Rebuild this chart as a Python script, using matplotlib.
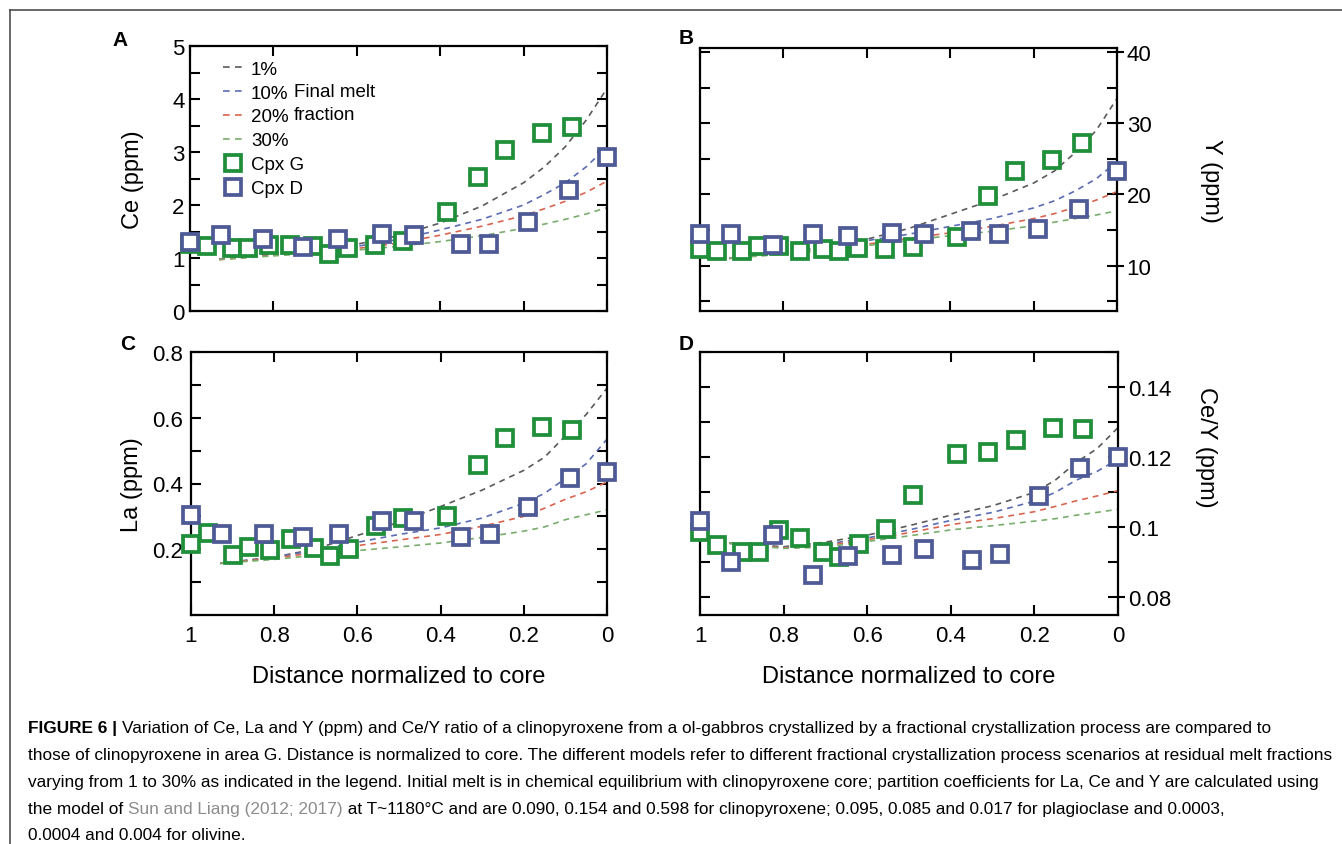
import matplotlib
matplotlib.use('Agg')
import matplotlib.pyplot as plt
from matplotlib import font_manager
from matplotlib.lines import Line2D
from matplotlib.ticker import MultipleLocator, NullLocator

W, H, DPI = 1342, 845, 100

# ---------------- data ----------------
dist_g = [1.0, 0.96, 0.90, 0.86, 0.81, 0.76, 0.705, 0.667, 0.62, 0.556,
          0.49, 0.384, 0.31, 0.244, 0.156, 0.084]
dist_d = [1.0, 0.925, 0.825, 0.73, 0.645, 0.54, 0.463, 0.35, 0.282, 0.19,
          0.09, 0.0]

ce_g = [1.27, 1.22, 1.19, 1.18, 1.24, 1.25, 1.22, 1.08, 1.19, 1.24, 1.33,
        1.87, 2.52, 3.03, 3.35, 3.48]
ce_d = [1.31, 1.44, 1.35, 1.20, 1.35, 1.46, 1.44, 1.27, 1.27, 1.68, 2.29, 2.91]

y_g = [12.3, 12.1, 12.1, 12.7, 12.8, 12.05, 12.3, 12.05, 12.4, 12.3, 12.6,
       14.0, 19.8, 23.3, 24.9, 27.3]
y_d = [14.4, 14.4, 12.9, 14.5, 14.2, 14.6, 14.4, 14.8, 14.4, 15.2, 17.9, 23.3]

la_g = [0.216, 0.249, 0.183, 0.206, 0.198, 0.231, 0.203, 0.179, 0.201, 0.270,
        0.294, 0.300, 0.455, 0.539, 0.572, 0.563]
la_d = [0.303, 0.245, 0.247, 0.237, 0.247, 0.287, 0.287, 0.237, 0.247, 0.328,
        0.417, 0.435]

cey_g = [0.0986, 0.0950, 0.0931, 0.0931, 0.0993, 0.0970, 0.0931, 0.0917,
         0.0952, 0.0995, 0.1093, 0.1210, 0.1216, 0.1250, 0.1284, 0.1281]
cey_d = [0.1019, 0.0902, 0.0978, 0.0864, 0.0919, 0.0922, 0.0938, 0.0908,
         0.0924, 0.1090, 0.1170, 0.1202]

# model curves (residual melt fraction 1, 10, 20, 30 %)
model_x = [0.93, 0.8, 0.7, 0.6, 0.5, 0.4, 0.3, 0.2, 0.15, 0.1, 0.05, 0.0]
model_labels = ['1%', '10%', '20%', '30%']

ce_model = [
    [0.98, 1.08, 1.16, 1.26, 1.42, 1.66, 1.98, 2.42, 2.72, 3.10, 3.60, 4.20],
    [0.98, 1.07, 1.14, 1.22, 1.35, 1.53, 1.73, 2.00, 2.20, 2.42, 2.72, 3.10],
    [0.97, 1.05, 1.11, 1.18, 1.28, 1.43, 1.60, 1.80, 1.93, 2.07, 2.24, 2.45],
    [0.97, 1.04, 1.09, 1.15, 1.22, 1.31, 1.42, 1.56, 1.64, 1.73, 1.83, 1.95],
]
y_model = [
    [11.0, 11.9, 12.6, 13.7, 15.2, 17.2, 19.2, 21.6, 23.3, 25.9, 29.0, 33.5],
    [11.0, 11.9, 12.6, 13.5, 14.4, 15.5, 16.6, 18.1, 19.1, 20.5, 22.2, 24.6],
    [11.0, 11.7, 12.3, 13.0, 13.8, 14.6, 15.5, 16.6, 17.3, 18.2, 19.2, 20.4],
    [11.0, 11.6, 12.1, 12.8, 13.5, 14.2, 14.8, 15.6, 16.1, 16.6, 17.1, 17.7],
]
la_model = [
    [0.157, 0.176, 0.201, 0.242, 0.282, 0.330, 0.380, 0.440, 0.480, 0.545, 0.610, 0.690],
    [0.157, 0.176, 0.197, 0.221, 0.245, 0.265, 0.295, 0.340, 0.370, 0.415, 0.460, 0.535],
    [0.157, 0.173, 0.190, 0.211, 0.228, 0.245, 0.270, 0.300, 0.325, 0.352, 0.375, 0.405],
    [0.157, 0.169, 0.182, 0.196, 0.207, 0.219, 0.236, 0.255, 0.268, 0.290, 0.305, 0.320],
]
cey_model = [
    [0.0955, 0.0945, 0.0958, 0.0978, 0.1005, 0.1035, 0.1062, 0.1100, 0.1135, 0.1186, 0.1225, 0.1285],
    [0.0955, 0.0943, 0.0952, 0.0970, 0.0993, 0.1020, 0.1043, 0.1075, 0.1100, 0.1135, 0.1160, 0.1195],
    [0.0955, 0.0942, 0.0948, 0.0965, 0.0985, 0.1008, 0.1025, 0.1045, 0.1060, 0.1076, 0.1090, 0.1105],
    [0.0955, 0.0940, 0.0944, 0.0960, 0.0976, 0.0993, 0.1005, 0.1018, 0.1025, 0.1035, 0.1043, 0.1052],
]

x_ticks = [1, 0.8, 0.6, 0.4, 0.2, 0]
x_ticklabels = ['1', '0.8', '0.6', '0.4', '0.2', '0']

# ---------------- style ----------------
FONT = 'Liberation Sans'
plt.rcParams['font.family'] = [FONT, 'DejaVu Sans']
model_colors = ['#5a5a5a', '#5b6cb3', '#d9644e', '#79ad6c']
G_COL = '#1f8f3a'
D_COL = '#4e5a96'
TICK_FS = 16
LAB_FS = 17
MS, MEW = 11.5, 2.7

fig = plt.figure(figsize=(W / DPI, H / DPI), dpi=DPI)


def add_ax(l, t, r, b):
    return fig.add_axes([l / W, 1 - b / H, (r - l) / W, (b - t) / H])


def style(ax, ylim, major, minor, yticks, right=False, xlabels=False, ypad=6):
    ax.set_xlim(1, 0)
    ax.set_ylim(*ylim)
    ax.set_xticks(x_ticks)
    ax.set_xticklabels(x_ticklabels if xlabels else [])
    ax.yaxis.set_major_locator(MultipleLocator(major))
    ax.yaxis.set_minor_locator(MultipleLocator(minor))
    ax.tick_params(which='both', direction='in', top=True, bottom=True,
                   left=True, right=True, length=7, width=1.5,
                   labelsize=TICK_FS, colors='black')
    ax.tick_params(axis='x', pad=7)
    ax.tick_params(axis='y', pad=ypad)
    for s in ax.spines.values():
        s.set_linewidth(1.6)
    if right:
        ax.tick_params(axis='y', labelleft=False, labelright=True)
        # outward half of the major ticks on the labelled right side
        sec = ax.secondary_yaxis('right')
        sec.set_yticks(yticks)
        sec.tick_params(axis='y', which='both', direction='out', length=5,
                        width=1.5, labelleft=False, labelright=False)
        sec.yaxis.set_minor_locator(NullLocator())
        for s in sec.spines.values():
            s.set_visible(False)


def draw(ax, model, g, d):
    for vals, c in zip(model, model_colors):
        ax.plot(model_x, vals, color=c, lw=1.2, dashes=(3.5, 3))
    ax.plot(dist_g, g, ls='none', marker='s', ms=MS, mfc='white',
            mec=G_COL, mew=MEW, clip_on=False, zorder=3)
    ax.plot(dist_d, d, ls='none', marker='s', ms=MS, mfc='white',
            mec=D_COL, mew=MEW, clip_on=False, zorder=4)


axA = add_ax(190, 47, 607, 312)
axB = add_ax(700, 49, 1117, 312)
axC = add_ax(191, 353, 607, 616)
axD = add_ax(700, 353, 1118, 616)

draw(axA, ce_model, ce_g, ce_d)
style(axA, (0, 5), 1, 0.5, [0, 1, 2, 3, 4, 5], ypad=4)
axA.set_yticks([0, 1, 2, 3, 4, 5])
axA.set_ylabel('Ce (ppm)', fontsize=LAB_FS)
axA.yaxis.set_label_coords(-0.11, 0.5)

draw(axB, y_model, y_g, y_d)
style(axB, (3.6, 40.6), 10, 5, [10, 20, 30, 40], right=True, ypad=7)
axB.set_yticks([10, 20, 30, 40])
axB.yaxis.set_label_position('right')
axB.set_ylabel('Y (ppm)', fontsize=LAB_FS, rotation=270, va='bottom')
axB.yaxis.set_label_coords(1.2, 0.5)

draw(axC, la_model, la_g, la_d)
style(axC, (0, 0.8), 0.2, 0.1, [0.2, 0.4, 0.6, 0.8], xlabels=True)
axC.set_yticks([0.2, 0.4, 0.6, 0.8])
axC.set_yticklabels(['0.2', '0.4', '0.6', '0.8'])
axC.set_ylabel('La (ppm)', fontsize=LAB_FS)
axC.yaxis.set_label_coords(-0.115, 0.5)
axC.set_xlabel('Distance normalized to core', fontsize=LAB_FS, labelpad=14)

draw(axD, cey_model, cey_g, cey_d)
style(axD, (0.075, 0.1501), 0.02, 0.01, [0.08, 0.1, 0.12, 0.14], right=True,
      xlabels=True, ypad=7)
axD.set_yticks([0.08, 0.1, 0.12, 0.14])
axD.set_yticklabels(['0.08', '0.1', '0.12', '0.14'])
axD.yaxis.set_label_position('right')
axD.set_ylabel('Ce/Y (ppm)', fontsize=LAB_FS, rotation=270, va='bottom')
axD.yaxis.set_label_coords(1.185, 0.64)
axD.set_xlabel('Distance normalized to core', fontsize=LAB_FS, labelpad=14)

# legend in panel A
LEG_FS = 13.5
handles = [Line2D([], [], color=c, lw=1.2, dashes=(4, 3.2)) for c in model_colors]
handles += [Line2D([], [], ls='none', marker='s', ms=MS, mfc='white', mec=G_COL, mew=MEW),
            Line2D([], [], ls='none', marker='s', ms=MS, mfc='white', mec=D_COL, mew=MEW)]
labels = model_labels + ['Cpx G', 'Cpx D']
axA.legend(handles, labels, loc='upper left', bbox_to_anchor=(0.079, 0.945),
           frameon=False, fontsize=LEG_FS, handlelength=1.1, handletextpad=0.4,
           labelspacing=0.36, borderpad=0, borderaxespad=0)
axA.text(0.25, 0.8275, 'Final melt', transform=axA.transAxes, fontsize=LEG_FS,
         va='center', ha='left')
axA.text(0.25, 0.741, 'fraction', transform=axA.transAxes, fontsize=LEG_FS,
         va='center', ha='left')

# panel letters
for lab, (px, py) in zip('ABCD', [(120, 40), (686, 38), (128, 345), (686, 345)]):
    fig.text(px / W, 1 - py / H, lab, fontsize=15, fontweight='bold',
             ha='center', va='center')

# frame lines of the page
fig.add_artist(Line2D([10 / W, 1], [1 - 11 / H, 1 - 11 / H], color='#404040', lw=1.1))
fig.add_artist(Line2D([10 / W, 10 / W], [1 - 11 / H, 0], color='#404040', lw=1.1))

# ---------------- caption ----------------
names = {f.name for f in font_manager.fontManager.ttflist}
cap_family = 'Liberation Sans Narrow' if 'Liberation Sans Narrow' in names else FONT
renderer = fig.canvas.get_renderer()

cap_lines = [
    [("FIGURE 6 | ", 'bold', 'black'),
     ("Variation of Ce, La and Y (ppm) and Ce/Y ratio of a clinopyroxene from a ol-gabbros "
      "crystallized by a fractional crystallization process are compared to", 'normal', 'black')],
    [("those of clinopyroxene in area G. Distance is normalized to core. The different models refer "
      "to different fractional crystallization process scenarios at residual melt fractions",
      'normal', 'black')],
    [("varying from 1 to 30% as indicated in the legend. Initial melt is in chemical equilibrium with "
      "clinopyroxene core; partition coefficients for La, Ce and Y are calculated using",
      'normal', 'black')],
    [("the model of ", 'normal', 'black'),
     ("Sun and Liang (2012; 2017)", 'normal', '#8c8c8c'),
     (" at T~1180°C and are 0.090, 0.154 and 0.598 for clinopyroxene; 0.095, 0.085 and 0.017 for "
      "plagioclase and 0.0003,", 'normal', 'black')],
    [("0.0004 and 0.004 for olivine.", 'normal', 'black')],
]
cap_baselines = [733, 760, 787, 814, 840]


def text_w(s, size, weight):
    t1 = fig.text(0, 0, '|' + s + '|', fontsize=size, family=[cap_family, 'DejaVu Sans'],
                  fontweight=weight)
    t2 = fig.text(0, 0, '||', fontsize=size, family=[cap_family, 'DejaVu Sans'],
                  fontweight=weight)
    w = t1.get_window_extent(renderer).width - t2.get_window_extent(renderer).width
    t1.remove()
    t2.remove()
    return w


ref_w = text_w(cap_lines[1][0][0], 12, 'normal')
cap_size = 12 * 1308 / ref_w

for segs, yb in zip(cap_lines, cap_baselines):
    x = 28
    for s, wgt, col in segs:
        fig.text(x / W, 1 - yb / H, s, fontsize=cap_size, fontweight=wgt, color=col,
                 family=[cap_family, 'DejaVu Sans'], va='baseline', ha='left')
        x += text_w(s, cap_size, wgt)

fig.savefig('out.png', dpi=DPI)
